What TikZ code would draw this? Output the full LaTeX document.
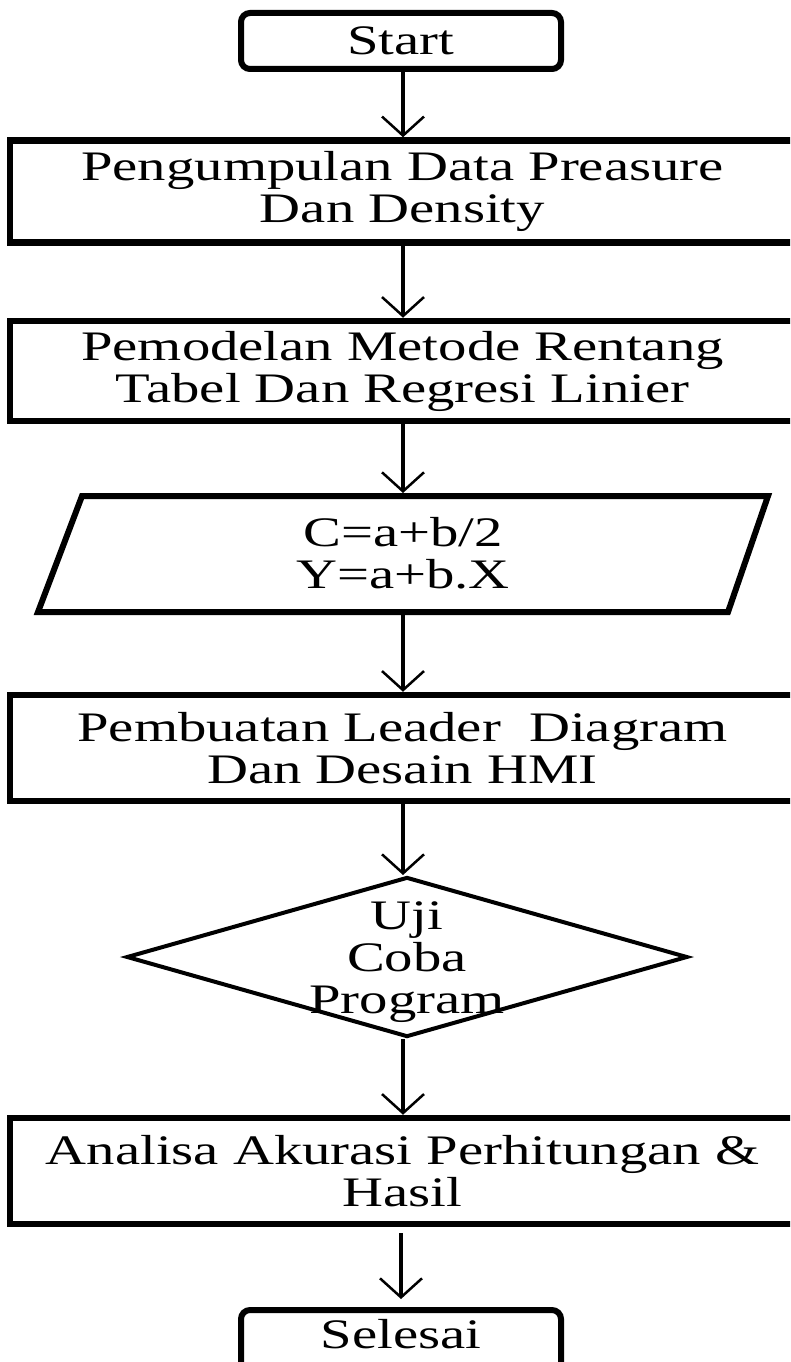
\documentclass[tikz,border=0pt]{standalone}
\usepackage{fontspec}
\setmainfont{Liberation Serif}[FakeStretch=1.35]
\usetikzlibrary{arrows.meta,shapes.geometric}
\begin{document}
\begin{tikzpicture}[x=1pt,y=-1pt,
  lbl/.style={font=\fontsize{42}{42}\selectfont, align=center},
  box/.style={lbl, draw, line width=6.5pt, rectangle, minimum width=785pt, inner sep=0pt},
  term/.style={lbl, draw, line width=6pt, rounded corners=9pt, minimum width=320pt, minimum height=56pt, inner sep=0pt},
  flow/.style={line width=3.5pt, -{Straight Barb[length=19pt,width=42pt,line width=2.5pt]}}
]
\useasboundingbox (0,0) rectangle (790,1362);
\clip (0,0) rectangle (790,1362);

\node[term] (start) at (401,41) {Start};
\node[box, minimum height=102pt] (b1) at (402.5,191.5) {Pengumpulan Data Preasure\\Dan Density};
\node[box, minimum height=100pt] (b2) at (402.5,371) {Pemodelan Metode Rentang\\Tabel Dan Regresi Linier};

\draw[line width=6pt] (82,496) -- (768,496) -- (728,612) -- (38,612) -- cycle;
\coordinate (ptop) at (403,493);
\coordinate (pbot) at (403,615);
\node[lbl, inner sep=0pt] (p) at (403,553) {C=a+b/2\\Y=a+b.X};

\node[box, minimum height=106pt] (b3) at (402.5,748) {Pembuatan Leader~ Diagram\\Dan Desain HMI};

\node[diamond, draw, line width=4pt, minimum width=561pt, minimum height=160pt, inner sep=0pt] (d) at (407,957) {};
\node[lbl, inner sep=0pt] (dt) at (407,962) {Uji\\Coba\\Program};

\node[box, minimum height=106pt] (b4) at (402.5,1171) {Analisa Akurasi Perhitungan \&\\Hasil};
\node[term, minimum height=62pt, text depth=14pt] (end) at (401,1341) {Selesai};

\draw[flow] (start.south -| 403,0) -- (b1.north -| 403,0);
\draw[flow] (b1.south -| 403,0) -- (b2.north -| 403,0);
\draw[flow] (b2.south -| 403,0) -- (ptop);
\draw[flow] (pbot) -- (b3.north -| 403,0);
\draw[flow] (b3.south -| 403,0) -- (d.north -| 403,0);
\draw[flow] (d.south -| 403,0) -- (b4.north -| 403,0);
\draw[flow, shorten <=6pt, shorten >=8pt] (b4.south -| 401,0) -- (end.north -| 401,0);
\end{tikzpicture}
\end{document}
